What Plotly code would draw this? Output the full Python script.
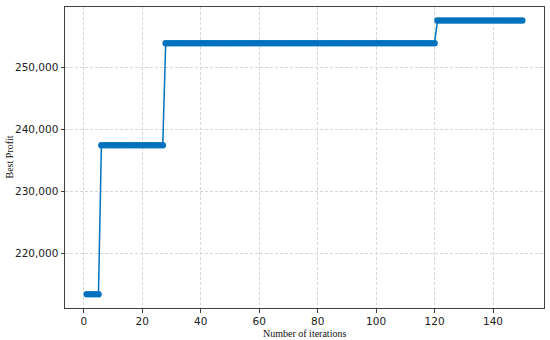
import plotly.graph_objects as go

# Step levels of the best profit over iterations
iterations = list(range(1, 151))
level_low = 213350
level_2 = 237400
level_3 = 253900
level_4 = 257550
best_profit = ([level_low] * 5 + [level_2] * 22 + [level_3] * 93 + [level_4] * 30)

y_ticks = [220000, 230000, 240000, 250000]
x_ticks = [0, 20, 40, 60, 80, 100, 120, 140]

fig = go.Figure()
fig.add_trace(go.Scatter(
    x=iterations, y=best_profit, mode="lines+markers",
    line=dict(color="#0072BD", width=1.5),
    marker=dict(color="#0072BD", size=6.5, line=dict(width=0)),
    showlegend=False,
))

axis_common = dict(
    showline=True, linecolor="#404040", linewidth=1, mirror=True,
    ticks="outside", ticklen=3.5, tickcolor="#404040", tickwidth=1,
    showgrid=True, gridcolor="#d6d6d6", griddash="3px,2px", gridwidth=1,
    zeroline=False, automargin=False,
    tickfont=dict(family="DejaVu Sans", size=10.5, color="#222222"),
)

fig.update_xaxes(**axis_common, range=[-6.45, 157.45], tickvals=x_ticks)
fig.update_yaxes(**axis_common, range=[211130, 259740], tickvals=y_ticks, tickformat=",d")

title_font = dict(family="Liberation Serif", size=10, color="#111111")
fig.add_annotation(text="Number of iterations", xref="paper", yref="paper",
                   x=0.5, y=0, yshift=-25, xanchor="center", yanchor="middle",
                   showarrow=False, font=title_font)
fig.add_annotation(text="Best Profit", xref="paper", yref="paper",
                   x=0, y=0.5, xshift=-56, xanchor="center", yanchor="middle",
                   textangle=-90, showarrow=False, font=title_font)

fig.update_layout(
    width=550, height=340,
    margin=dict(l=65, r=6, t=7, b=32),
    paper_bgcolor="white", plot_bgcolor="white",
)

fig.write_html("out.html", config={"displayModeBar": False},
               post_script="document.body.style.margin='0px';")
